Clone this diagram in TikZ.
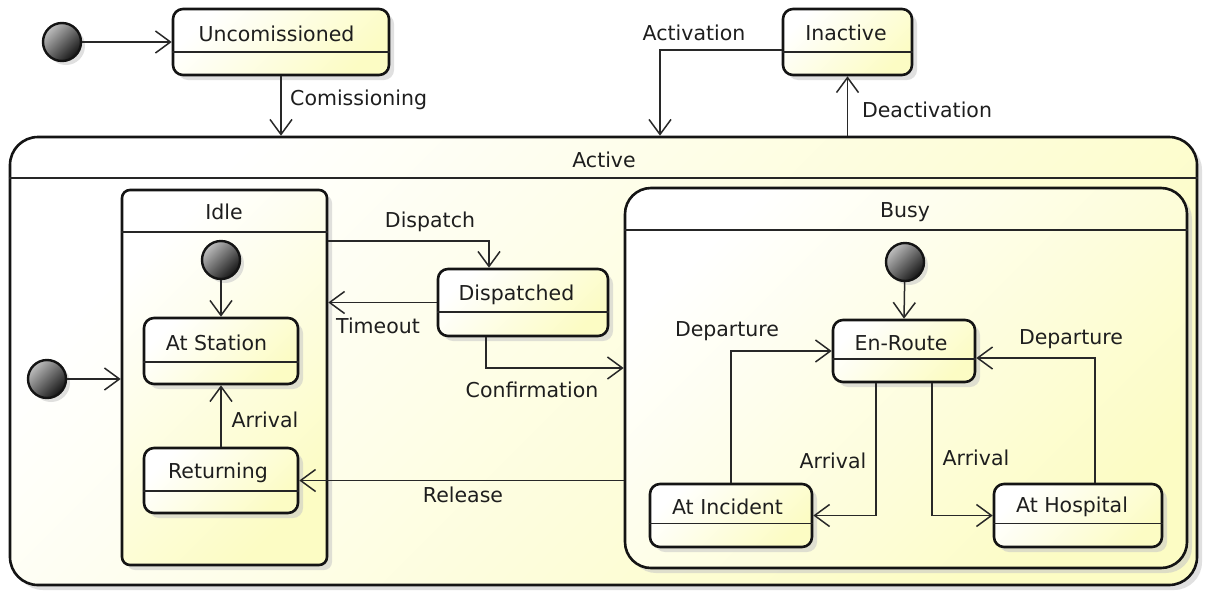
\documentclass[tikz,border=0pt]{standalone}
\usepackage{fontspec}
\setmainfont{DejaVu Sans}
\usetikzlibrary{arrows.meta,shadows}
\definecolor{ylw}{RGB}{252,252,196}
\definecolor{lnc}{RGB}{40,40,40}
\definecolor{txc}{RGB}{30,30,30}
\begin{document}
\begin{tikzpicture}[x=1pt,y=-1pt,
  every node/.style={font=\fontsize{20.5}{24}\selectfont, inner sep=0pt, text=txc},
  stbox/.style={draw=black!92, line width=2.6pt, rounded corners=10pt,
    top color=white, bottom color=ylw, shading angle=45,
    drop shadow={shadow xshift=5pt, shadow yshift=-5pt, fill=black!22, opacity=0.55}},
  initdot/.style={circle, draw=black!92, line width=2.4pt, minimum size=38pt,
    top color=black!25, bottom color=black!92, shading angle=45,
    drop shadow={shadow xshift=4pt, shadow yshift=-4pt, fill=black!22, opacity=0.55}},
  sep/.style={draw=black!85, line width=1.4pt},
  arr/.style={draw=lnc, line width=1.5pt, -{Straight Barb[length=15pt,width=22pt]}},
  lbl/.style={}
]
\useasboundingbox (0,0) rectangle (1206,592);
\fill[white] (0,0) rectangle (1206,592);

% composite states
\node[stbox, rounded corners=28pt, minimum width=1187, minimum height=448] (active) at (603.5,361) {};
\draw[sep] ([yshift=183pt]active.west) -- ([yshift=183pt]active.east);
\node (tactive) at (604,160) {Active};

\node[stbox, rounded corners=8pt, minimum width=205, minimum height=375] (idle) at (224.5,377.5) {};
\draw[sep] ([yshift=145.5pt]idle.west) -- ([yshift=145.5pt]idle.east);
\node (tidle) at (224,212) {Idle};

\node[stbox, rounded corners=26pt, minimum width=562, minimum height=380] (busy) at (906,378) {};
\draw[sep] ([yshift=148pt]busy.west) -- ([yshift=148pt]busy.east);
\node (tbusy) at (905,212) {Busy};

% simple states
\node[stbox, minimum width=216, minimum height=66] (unc) at (281,42) {};
\draw[sep] ([yshift=-10pt]unc.west) -- ([yshift=-10pt]unc.east);
\node (tunc) at (276.5,34) {Uncomissioned};

\node[stbox, minimum width=129, minimum height=66] (inact) at (847.5,42) {};
\draw[sep] ([yshift=-10pt]inact.west) -- ([yshift=-10pt]inact.east);
\node (tinact) at (846,33) {Inactive};

\node[stbox, minimum width=154, minimum height=66] (atst) at (221,351) {};
\draw[sep] ([yshift=-11pt]atst.west) -- ([yshift=-11pt]atst.east);
\node (tatst) at (216.5,343) {At Station};

\node[stbox, minimum width=154, minimum height=65] (ret) at (221,480.5) {};
\draw[sep] ([yshift=-10.5pt]ret.west) -- ([yshift=-10.5pt]ret.east);
\node (tret) at (218,473) {Returning};

\node[stbox, minimum width=170, minimum height=67] (disp) at (523,302.5) {};
\draw[sep] ([yshift=-9.5pt]disp.west) -- ([yshift=-9.5pt]disp.east);
\node (tdisp) at (516.5,295) {Dispatched};

\node[stbox, minimum width=142, minimum height=62] (enr) at (904,351) {};
\draw[sep] ([yshift=-8pt]enr.west) -- ([yshift=-8pt]enr.east);
\node (tenr) at (901,343) {En-Route};

\node[stbox, minimum width=162, minimum height=63] (atinc) at (731,515.5) {};
\draw[sep] ([yshift=-8pt]atinc.west) -- ([yshift=-8pt]atinc.east);
\node (tatinc) at (727.5,507) {At Incident};

\node[stbox, minimum width=168, minimum height=63] (athos) at (1078,515.5) {};
\draw[sep] ([yshift=-8pt]athos.west) -- ([yshift=-8pt]athos.east);
\node (tathos) at (1072,507) {At Hospital};

% initial pseudo-states
\node[initdot] (i0) at (62,42) {};
\node[initdot] (ii) at (221,260) {};
\node[initdot] (il) at (47,379) {};
\node[initdot] (ib) at (905,262) {};

% transitions
\draw[arr] (i0) -- (unc.west);
\draw[arr] (unc.south) -- (unc.south |- active.north);
\node[anchor=west] (lcom) at (290,100) {Comissioning};

\draw[arr] ([yshift=-8pt]inact.west) -| ([xshift=56.5pt]active.north);
\node (lact) at (694,33) {Activation};
\draw[arr] (inact.south |- active.north) -- (inact.south);
\node (ldeact) at (927,110) {Deactivation};

\draw[arr] (il) -- (il -| idle.west);
\draw[arr] (ii) -- (atst.north);
\draw[arr] (ret.north) -- (atst.south);
\node (larr1) at (265,420) {Arrival};

\draw[arr] ([yshift=136.5pt]idle.east) -| ([xshift=-34pt]disp.north);
\node (ldisp) at (430,222) {Dispatch};
\draw[arr] (disp.west) -- (disp.west -| idle.east);
\node (ltime) at (378,326) {Timeout};
\draw[arr] ([xshift=-37pt]disp.south) |- ([yshift=10pt]busy.west);
\node (lconf) at (532,390) {Confirmation};
\draw[arr] (busy.west |- ret.east) -- (ret.east);
\node (lrel) at (463,495) {Release};

\draw[arr] (ib) -- (enr.north);
\draw[arr] (atinc.north) |- (enr.west);
\node (ldep1) at (727,331) {Departure};
\draw[arr] ([xshift=-28pt]enr.south) |- (atinc.east);
\node (larr2) at (833,461) {Arrival};
\draw[arr] ([xshift=28pt]enr.south) |- (athos.west);
\node (larr3) at (976,458) {Arrival};
\draw[arr] ([xshift=17pt]athos.north) |- ([yshift=-7pt]enr.east);
\node (ldep2) at (1071,339) {Departure};
\end{tikzpicture}
\end{document}
